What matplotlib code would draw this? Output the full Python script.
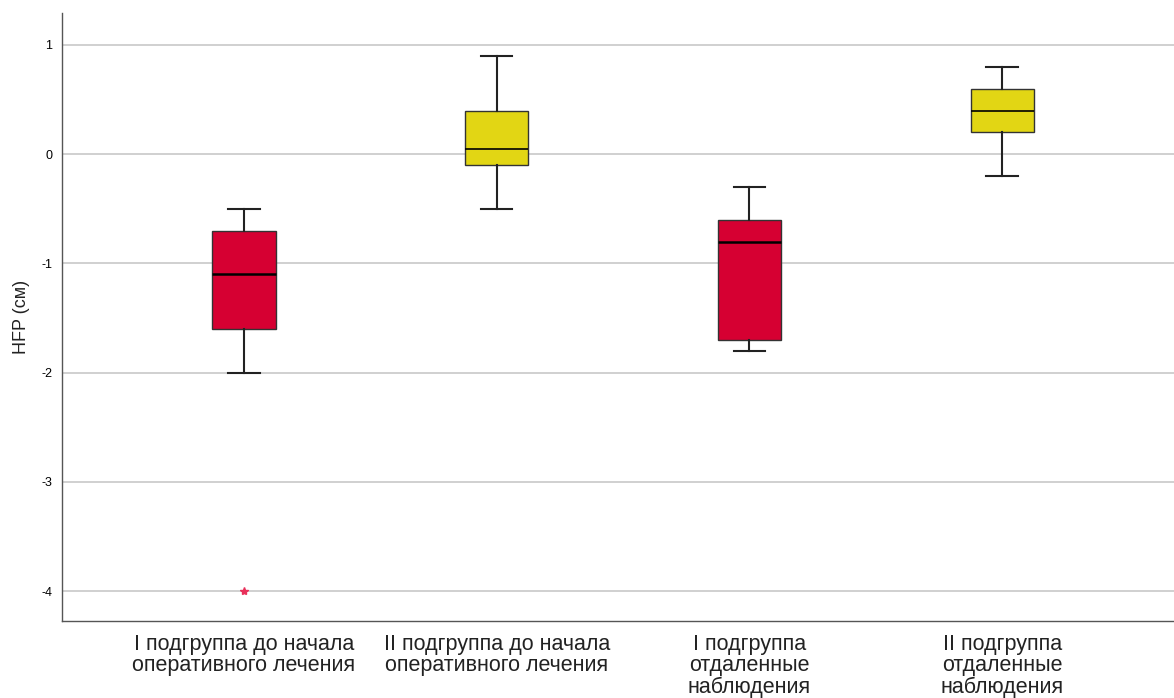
import matplotlib.pyplot as plt

plt.rcParams['font.family'] = ['Liberation Sans', 'DejaVu Sans']

# Group labels
LABELS = [
    "I подгруппа до начала\nоперативного лечения",
    "II подгруппа до начала\nоперативного лечения",
    "I подгруппа\nотдаленные\nнаблюдения",
    "II подгруппа\nотдаленные\nнаблюдения",
]

# Box statistics
WHISK_LO = [-2.0, -0.5, -1.8, -0.2]
Q1 = [-1.6, -0.1, -1.7, 0.2]
MEDIAN = [-1.1, 0.05, -0.8, 0.4]
Q3 = [-0.7, 0.4, -0.6, 0.6]
WHISK_HI = [-0.5, 0.9, -0.3, 0.8]
OUTLIERS = [[-4.0], [], [], []]

COLORS = ["#d60032", "#e2d614", "#d60032", "#e2d614"]
Y_TICKS = [1, 0, -1, -2, -3, -4]


def main():
    fig = plt.figure(figsize=(11.74, 6.98), dpi=100)
    ax = fig.add_axes([0.0528, 0.1103, 0.9472, 0.8711])

    stats = []
    for i, lab in enumerate(LABELS):
        stats.append({
            'label': lab, 'whislo': WHISK_LO[i], 'q1': Q1[i], 'med': MEDIAN[i],
            'q3': Q3[i], 'whishi': WHISK_HI[i], 'fliers': OUTLIERS[i],
        })

    positions = list(range(len(LABELS)))
    bp = ax.bxp(stats, positions=positions, widths=0.25, patch_artist=True,
                showfliers=True,
                boxprops=dict(edgecolor='#333333', linewidth=1.0),
                medianprops=dict(color='black', linewidth=1.8),
                whiskerprops=dict(color='#222222', linewidth=1.5),
                capprops=dict(color='#222222', linewidth=1.5),
                capwidths=0.125,
                flierprops=dict(marker='*', markersize=6, markerfacecolor='#e8305a',
                                markeredgecolor='#e8305a', linestyle='none'))
    for patch, c in zip(bp['boxes'], COLORS):
        patch.set_facecolor(c)
    bp['medians'][1].set_linewidth(1.2)
    bp['medians'][3].set_linewidth(1.2)

    for y in Y_TICKS:
        ax.axhline(y, color='#c8c8c8', linewidth=1.2, zorder=0)

    ax.set_xlim(-0.72, 3.68)
    ax.set_ylim(-4.274, 1.293)
    ax.set_yticks(Y_TICKS)
    ax.set_yticklabels([str(t) for t in Y_TICKS], fontsize=9)
    ax.set_xticks(positions)
    ax.set_xticklabels(LABELS, fontsize=15.5, linespacing=1.05, color='#222222')
    ax.tick_params(axis='both', length=0)
    ax.tick_params(axis='y', pad=7)
    ax.tick_params(axis='x', pad=9)
    ax.set_ylabel('HFP (см)', fontsize=13, labelpad=8, color='#222222')

    for side in ['top', 'right']:
        ax.spines[side].set_visible(False)
    for side in ['left', 'bottom']:
        ax.spines[side].set_color('#555555')
        ax.spines[side].set_linewidth(1.0)

    fig.savefig('out.png', dpi=100)
    plt.close(fig)


if __name__ == "__main__":
    main()
